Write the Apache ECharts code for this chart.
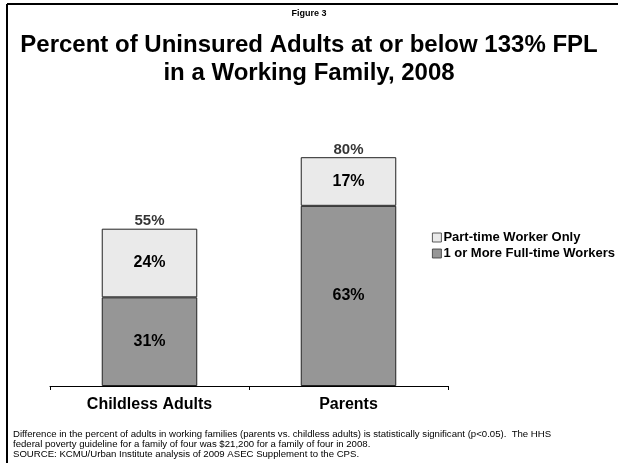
<!DOCTYPE html>
<html>
<head>
<meta charset="utf-8">
<script src="https://cdn.jsdelivr.net/npm/echarts@6/dist/echarts.min.js"></script>
<style>
html,body{margin:0;padding:0;background:#fff;}
#c{width:618px;height:463px;}
</style>
</head>
<body>
<div id="c"></div>
<script>
var categories = ['Childless Adults', 'Parents'];
var fullTime = [31, 63];
var partTime = [24, 17];
var totals = [55, 80];
var seriesNames = ['1 or More Full-time Workers', 'Part-time Worker Only'];
var figureLabel = 'Figure 3';
var titleText = 'Percent of Uninsured Adults at or below 133% FPL\nin a Working Family, 2008';
var footnote = 'Difference in the percent of adults in working families (parents vs. childless adults) is statistically significant (p<0.05).  The HHS\nfederal poverty guideline for a family of four was $21,200 for a family of four in 2008.\nSOURCE: KCMU/Urban Institute analysis of 2009 ASEC Supplement to the CPS.';

var FONT = '"Liberation Sans", Arial, sans-serif';
var chart = echarts.init(document.getElementById('c'), null, {renderer: 'canvas'});
var pct = function (p) { return p.value + '%'; };
chart.setOption({
  animation: false,
  backgroundColor: '#fff',
  textStyle: {fontFamily: FONT},
  graphic: [
    {type: 'line', shape: {x1: 7, y1: 4, x2: 618, y2: 4}, style: {stroke: '#000', lineWidth: 2}},
    {type: 'line', shape: {x1: 7, y1: 4, x2: 7, y2: 463}, style: {stroke: '#000', lineWidth: 2}},
    {type: 'text', left: 'center', top: 9, style: {text: figureLabel, font: 'bold 9px ' + FONT, fill: '#000'}},
    {type: 'text', left: 'center', top: 31, style: {text: titleText, font: 'bold 24px ' + FONT, fill: '#000', textAlign: 'center', lineHeight: 28}},
    {type: 'text', left: 13, top: 429, style: {text: footnote, font: '9.6px ' + FONT, fill: '#000', lineHeight: 10.3}}
  ],
  legend: {
    orient: 'vertical',
    left: 427,
    top: 226,
    data: [seriesNames[1], seriesNames[0]],
    icon: 'rect',
    itemWidth: 9,
    itemHeight: 9,
    itemGap: 3,
    itemStyle: {borderWidth: 0.8, borderColor: '#333'},
    textStyle: {fontFamily: FONT, fontWeight: 'bold', fontSize: 13, color: '#000', padding: [0, 0, 0, -3]}
  },
  grid: {left: 50, right: 170, top: 100, bottom: 77, containLabel: false},
  xAxis: {
    type: 'category',
    data: categories,
    axisLine: {lineStyle: {color: '#000', width: 1}},
    axisTick: {show: true, length: 4, lineStyle: {color: '#000'}},
    axisLabel: {fontFamily: FONT, fontWeight: 'bold', fontSize: 16, color: '#000', margin: 11}
  },
  yAxis: {type: 'value', min: 0, max: 100, show: false, splitLine: {show: false}},
  series: [
    {
      name: seriesNames[0], type: 'bar', stack: 's', data: fullTime, barWidth: '48%',
      itemStyle: {color: '#969696', borderColor: '#222', borderWidth: 1},
      label: {show: true, position: 'inside', formatter: pct, fontFamily: FONT, fontWeight: 'bold', fontSize: 16, color: '#000'}
    },
    {
      name: seriesNames[1], type: 'bar', stack: 's', data: partTime, barWidth: '48%',
      itemStyle: {color: '#eaeaea', borderColor: '#222', borderWidth: 1},
      label: {show: true, position: 'inside', formatter: pct, fontFamily: FONT, fontWeight: 'bold', fontSize: 16, color: '#000'}
    },
    {
      name: 'Total', type: 'scatter', data: totals, symbolSize: 0, silent: true,
      label: {show: true, position: 'top', distance: 0, formatter: pct, fontFamily: FONT, fontWeight: 'bold', fontSize: 15, color: '#000'}
    }
  ]
});
</script>
</body>
</html>
